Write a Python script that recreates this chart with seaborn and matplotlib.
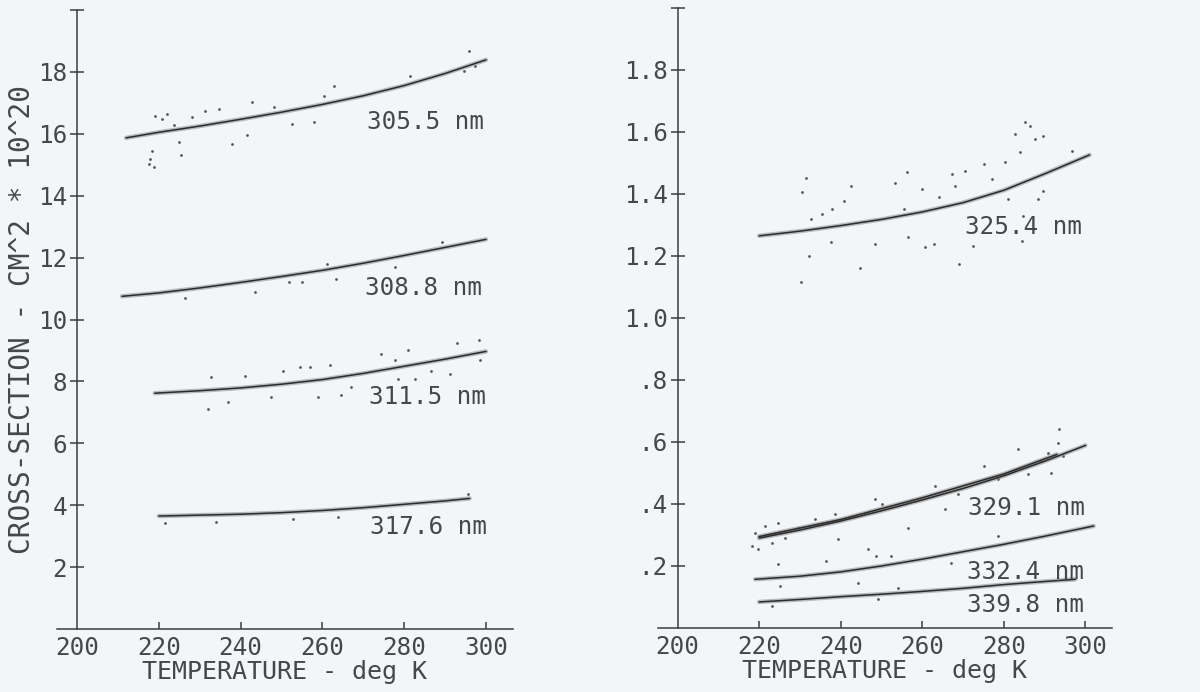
import numpy as np
import pandas as pd
import matplotlib
matplotlib.use("Agg")
import matplotlib.pyplot as plt
import seaborn as sns

# ---------------- data ----------------
# left panel: fitted curves, temperature (K) vs cross-section (1e-20 cm^2)
t_3055 = [212, 220, 230, 240, 250, 260, 270, 280, 290, 300]
s_3055 = [15.87, 16.05, 16.25, 16.47, 16.70, 16.95, 17.23, 17.56, 17.95, 18.39]
t_3088 = [211, 220, 230, 240, 250, 260, 270, 280, 290, 300]
s_3088 = [10.75, 10.86, 11.02, 11.20, 11.39, 11.59, 11.82, 12.07, 12.33, 12.59]
t_3115 = [219, 230, 240, 250, 260, 270, 280, 290, 300]
s_3115 = [7.62, 7.70, 7.79, 7.91, 8.06, 8.26, 8.49, 8.72, 8.97]
t_3176 = [220, 230, 240, 250, 260, 270, 280, 290, 296]
s_3176 = [3.65, 3.68, 3.71, 3.76, 3.83, 3.92, 4.03, 4.14, 4.22]

# right panel
t_3254 = [220, 230, 240, 250, 260, 270, 280, 290, 301]
s_3254 = [1.265, 1.280, 1.298, 1.318, 1.342, 1.372, 1.412, 1.465, 1.526]
t_3291 = [220, 230, 240, 250, 260, 270, 280, 290, 300]
s_3291 = [0.290, 0.316, 0.345, 0.378, 0.413, 0.450, 0.491, 0.538, 0.589]
t_3291b = [220, 240, 260, 280, 293]
s_3291b = [0.295, 0.350, 0.420, 0.497, 0.560]
t_3324 = [219, 230, 240, 250, 260, 270, 280, 290, 302]
s_3324 = [0.157, 0.167, 0.181, 0.200, 0.222, 0.246, 0.270, 0.296, 0.329]
t_3398 = [220, 230, 240, 250, 260, 270, 280, 290, 297.5]
s_3398 = [0.084, 0.092, 0.101, 0.109, 0.118, 0.128, 0.140, 0.150, 0.157]

# scattered measurement points (visible outliers)
pt_left_t = [217.5, 218.7, 217.9, 218.3, 219.1, 220.8, 222.0, 223.6, 224.9, 225.3,
             228.1, 231.4, 234.6, 237.9, 241.6, 242.8, 248.1, 252.6, 257.9, 262.8,
             260.3, 295.8, 297.4, 294.5, 281.5,
             226.5, 243.6, 251.8, 255.0, 261.1, 263.2, 277.8, 289.2,
             232.8, 232.0, 236.9, 241.0, 247.5, 250.4, 254.4, 256.9, 258.9, 261.8,
             264.6, 267.1, 274.4, 277.7, 280.9, 282.6, 286.6, 291.1, 298.5, 278.5,
             292.9, 298.2,
             221.4, 252.8, 263.8, 295.6, 234.1]
pt_left_s = [15.03, 14.93, 15.19, 15.46, 16.59, 16.48, 16.65, 16.27, 15.73, 15.30,
             16.54, 16.75, 16.81, 15.68, 15.95, 17.02, 16.86, 16.32, 16.38, 17.56,
             17.22, 18.69, 18.20, 18.04, 17.88,
             10.68, 10.89, 11.22, 11.22, 11.81, 11.32, 11.70, 12.51,
             8.14, 7.12, 7.33, 8.19, 7.49, 8.35, 8.46, 8.46, 7.49, 8.52,
             7.55, 7.82, 8.89, 8.68, 9.00, 8.09, 8.35, 8.25, 8.68, 8.09,
             9.25, 9.35,
             3.41, 3.57, 3.62, 4.35, 3.46]

pt_right_t = [231.4, 230.6, 230.2, 232.2, 232.6, 235.5, 237.9, 240.8, 242.4, 244.8,
              237.5, 248.5, 253.4, 256.2, 255.4, 259.9, 256.6, 260.7, 262.8, 264.0,
              267.2, 268.9, 270.5, 272.5, 275.0, 277.0, 280.3, 282.7, 285.2, 286.4,
              284.4, 287.6, 289.7, 283.9, 281.1, 288.4, 289.7, 284.8, 268.0, 296.6,
              218.2, 219.0, 219.8, 221.4, 223.1, 224.7, 226.3, 229.6, 233.7, 238.6,
              239.4, 248.3, 250.0, 256.5, 263.0, 265.5, 268.7, 275.2, 278.5, 283.4,
              285.8, 289.1, 290.7, 293.2, 291.5, 294.4, 293.6,
              224.7, 225.1, 236.5, 244.3, 246.7, 248.7, 252.4, 254.0, 267.1, 278.5,
              223.1, 249.1]
pt_right_s = [1.452, 1.407, 1.117, 1.201, 1.319, 1.335, 1.352, 1.378, 1.427, 1.160,
              1.244, 1.239, 1.435, 1.470, 1.352, 1.416, 1.260, 1.228, 1.239, 1.389,
              1.465, 1.174, 1.475, 1.233, 1.497, 1.448, 1.502, 1.594, 1.631, 1.620,
              1.249, 1.577, 1.588, 1.535, 1.384, 1.384, 1.411, 1.330, 1.427, 1.540,
              0.265, 0.307, 0.254, 0.329, 0.275, 0.340, 0.291, 0.324, 0.351, 0.367,
              0.286, 0.415, 0.399, 0.324, 0.458, 0.383, 0.431, 0.523, 0.480, 0.576,
              0.496, 0.539, 0.566, 0.598, 0.501, 0.555, 0.641,
              0.205, 0.135, 0.216, 0.146, 0.254, 0.232, 0.232, 0.130, 0.211, 0.297,
              0.071, 0.093]

left_names = ["305.5 nm", "308.8 nm", "311.5 nm", "317.6 nm"]
right_names = ["325.4 nm", "329.1 nm", "329.1 nm b", "332.4 nm", "339.8 nm"]
left_yticks = [2, 4, 6, 8, 10, 12, 14, 16, 18]
right_yticks = [0.2, 0.4, 0.6, 0.8, 1.0, 1.2, 1.4, 1.6, 1.8]
right_yticklabels = [".2", ".4", ".6", ".8", "1.0", "1.2", "1.4", "1.6", "1.8"]
xticks = [200, 220, 240, 260, 280, 300]

# ---------------- build frames ----------------
def frame(pairs, names):
    rows = []
    for (t, s), n in zip(pairs, names):
        rows.append(pd.DataFrame({"T": t, "sigma": s, "line": n}))
    return pd.concat(rows, ignore_index=True)

left_df = frame([(t_3055, s_3055), (t_3088, s_3088), (t_3115, s_3115), (t_3176, s_3176)], left_names)
right_df = frame([(t_3254, s_3254), (t_3291, s_3291), (t_3291b, s_3291b),
                  (t_3324, s_3324), (t_3398, s_3398)], right_names)
left_pts = pd.DataFrame({"T": pt_left_t, "sigma": pt_left_s})
right_pts = pd.DataFrame({"T": pt_right_t, "sigma": pt_right_s})

# ---------------- style ----------------
sns.set_theme(style="white")
plt.rcParams["font.family"] = ["DejaVu Sans Mono"]
bg = "#f3f6f9"
ink = "#3c3c3c"
txt = "#474747"
fs = 17.5

fig = plt.figure(figsize=(12, 6.92), dpi=100)
fig.patch.set_facecolor(bg)
axL = fig.add_axes([0.0475, 0.091, 0.38, 0.8945])
axR = fig.add_axes([0.548, 0.0925, 0.379, 0.896])

def draw(ax, df, pts, ylim, yticks, yticklabels, labels):
    ax.set_facecolor(bg)
    sns.lineplot(data=df, x="T", y="sigma", units="line", estimator=None, sort=False,
                 color="#8a8a8a", lw=3.2, alpha=0.55, ax=ax, legend=False)
    sns.lineplot(data=df, x="T", y="sigma", units="line", estimator=None, sort=False,
                 color="#2b2b2b", lw=1.1, ax=ax, legend=False)
    sns.scatterplot(data=pts, x="T", y="sigma", s=4, color="#555555",
                    linewidth=0, ax=ax, legend=False)
    ax.set_xlim(195.1, 306.6)
    ax.set_ylim(*ylim)
    for s in ["top", "right"]:
        ax.spines[s].set_visible(False)
    ax.spines["left"].set_position(("data", 200))
    for s in ["left", "bottom"]:
        ax.spines[s].set_color(ink)
        ax.spines[s].set_linewidth(1.1)
    ax.set_xticks(xticks)
    ax.set_xticklabels([str(v) for v in xticks], fontsize=fs, color=txt)
    ax.set_yticks(yticks + [ylim[1]])
    ax.set_yticklabels(yticklabels + [""], fontsize=fs, color=txt)
    ax.tick_params(axis="y", direction="inout", length=10, width=1.1, color=ink, pad=2, left=True)
    ax.tick_params(axis="x", direction="in", length=5, width=1.1, color=ink, pad=5, bottom=True)
    xt = ax.xaxis.get_major_ticks()
    xt[0].tick1line.set_visible(False)
    ax.set_xlabel("TEMPERATURE - deg K", fontsize=18, color=txt, labelpad=0)
    ax.set_ylabel("")
    for (x, y, s) in labels:
        ax.text(x, y, s, fontsize=fs, color=txt, ha="left", va="center")

draw(axL, left_df, left_pts, (0, 20), left_yticks, [str(v) for v in left_yticks],
     [(271, 16.39, left_names[0]), (270.5, 11.02, left_names[1]),
      (271.3, 7.49, left_names[2]), (271.7, 3.30, left_names[3])])
draw(axR, right_df, right_pts, (0, 2.0), right_yticks, right_yticklabels,
     [(270.5, 1.293, right_names[0]), (271.3, 0.388, right_names[1]),
      (271, 0.181, right_names[3]), (271, 0.073, right_names[4])])

axL.set_ylabel("CROSS-SECTION - CM^2 * 10^20", fontsize=20, color=txt)
axL.yaxis.set_label_coords(-0.045, 0.5)

fig.savefig("out.png", dpi=100, facecolor=bg)
